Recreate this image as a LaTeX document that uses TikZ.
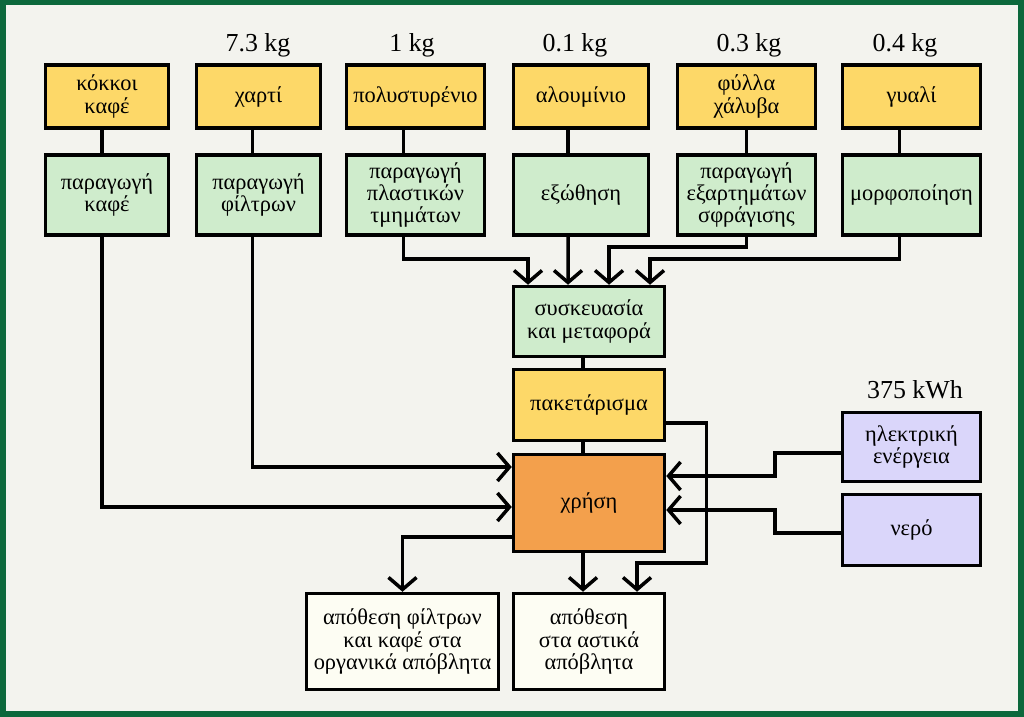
\documentclass[tikz,border=0pt]{standalone}
\usepackage{fontspec}
\setmainfont{Liberation Serif}
\usetikzlibrary{arrows.meta,positioning}
\definecolor{framegreen}{RGB}{12,104,60}
\definecolor{paper}{RGB}{243,243,238}
\definecolor{matyellow}{RGB}{253,216,104}
\definecolor{procgreen}{RGB}{207,236,204}
\definecolor{useorange}{RGB}{243,160,76}
\definecolor{inpurple}{RGB}{218,214,250}
\definecolor{endwhite}{RGB}{253,253,243}
\tikzset{
  box/.style={draw=black, line width=3.5bp, align=center, inner sep=1bp,
    font=\fontsize{22.5}{22.5}\selectfont},
  material/.style={box, fill=matyellow, minimum height=63bp},
  process/.style={box, fill=procgreen, minimum height=80bp},
  kg/.style={font=\fontsize{26}{28}\selectfont, inner sep=0bp},
}
\begin{document}
\begin{tikzpicture}[x=1bp,y=-1bp,>={Straight Barb[length=12bp,width=28bp]},line width=3.5bp]
  \useasboundingbox (0,0) rectangle (1024,717);
  \fill[framegreen] (0,0) rectangle (1024,717);
  \fill[paper] (6,5) rectangle (1018,711);
%%
  % Node: materials
  \node[material, minimum width=123bp] (kokkoi) at (107,96.5) {κόκκοι\\καφέ};
  \node[material, minimum width=124bp] (xarti) at (258.5,96.5) {χαρτί};
  \node[material, minimum width=138bp] (poly) at (415.5,96.5) {πολυστυρένιο};
  \node[material, minimum width=135bp] (alum) at (581,96.5) {αλουμίνιο};
  \node[material, minimum width=138bp] (fylla) at (746.5,96.5) {φύλλα\\χάλυβα};
  \node[material, minimum width=138bp] (gyali) at (911.5,96.5) {γυαλί};
  % Node: weights
  \node[kg] (wxarti) at (258,45) {7.3 kg};
  \node[kg] (wpoly) at (412,45) {1 kg};
  \node[kg] (walum) at (575,45) {0.1 kg};
  \node[kg] (wfylla) at (749,45) {0.3 kg};
  \node[kg] (wgyali) at (905,45) {0.4 kg};
  % Node: processes
  \node[process, minimum width=123bp] (kafeprod) at (107,195) {παραγωγή\\καφέ};
  \node[process, minimum width=124bp] (filtprod) at (258.5,195) {παραγωγή\\φίλτρων};
  \node[process, minimum width=138bp] (plastprod) at (415.5,195) {παραγωγή\\πλαστικών\\τμημάτων};
  \node[process, minimum width=135bp] (extr) at (581,195) {εξώθηση};
  \node[process, minimum width=138bp] (sfrag) at (746.5,195) {παραγωγή\\εξαρτημάτων\\σφράγισης};
  \node[process, minimum width=138bp] (morf) at (911.5,195) {μορφοποίηση};
  % Node: centre column
  \node[box, fill=procgreen, minimum width=151bp, minimum height=70bp] (syskev) at (589,321.5) {συσκευασία\\και μεταφορά};
  \node[box, fill=matyellow, minimum width=151bp, minimum height=71bp] (paket) at (589,405) {πακετάρισμα};
  \node[box, fill=useorange, minimum width=151bp, minimum height=97bp] (xrisi) at (589,503) {χρήση};
  % Node: inputs
  \node[kg] (wenerg) at (915,390) {375 kWh};
  \node[box, fill=inpurple, minimum width=138bp, minimum height=69bp] (energ) at (911.5,447) {ηλεκτρική\\ενέργεια};
  \node[box, fill=inpurple, minimum width=138bp, minimum height=71bp] (nero) at (911.5,530) {νερό};
  % Node: disposal
  \node[box, fill=endwhite, minimum width=192bp, minimum height=96bp] (organ) at (402.5,641.5) {απόθεση φίλτρων\\και καφέ στα\\οργανικά απόβλητα};
  \node[box, fill=endwhite, minimum width=151bp, minimum height=96bp] (astiko) at (589,641.5) {απόθεση\\στα αστικά\\απόβλητα};
%%
  % Edge: materials -> processes
  \draw ([xshift=-5bp]kokkoi.south) -- ([xshift=-5bp]kafeprod.north);
  \draw ([xshift=-6bp]xarti.south) -- ([xshift=-6bp]filtprod.north);
  \draw ([xshift=-12bp]poly.south) -- ([xshift=-12bp]plastprod.north);
  \draw ([xshift=-13bp]alum.south) -- ([xshift=-13bp]extr.north);
  \draw (fylla.south) -- (sfrag.north);
  \draw ([xshift=-12bp]gyali.south) -- ([xshift=-12bp]morf.north);
  % Edge: processes -> syskev
  \draw[->] ([xshift=-12bp]plastprod.south) -- ++(0,22) -| ([xshift=-61bp]syskev.north);
  \draw[->] ([xshift=-13bp]extr.south) -- ([xshift=-21bp]syskev.north);
  \draw[->] (sfrag.south) -- ++(0,10) -| ([xshift=20bp]syskev.north);
  \draw[->] ([xshift=-12bp]morf.south) -- ++(0,22) -| ([xshift=61bp]syskev.north);
  % Edge: centre column
  \draw ([xshift=-6bp]syskev.south) -- ([xshift=-6bp]paket.north);
  \draw ([xshift=-6bp]paket.south) -- ([xshift=-6bp]xrisi.north);
  % Edge: -> xrisi
  \draw[->] ([xshift=-5bp]kafeprod.south) |- ([yshift=-4bp]xrisi.west);
  \draw[->] ([xshift=-6bp]filtprod.south) |- ([yshift=36bp]xrisi.west);
  \draw[->] ([yshift=-6bp]energ.west) -- ++(-66,0) |- ([yshift=27bp]xrisi.east);
  \draw[->] ([yshift=-3bp]nero.west) -- ++(-66,0) |- ([yshift=-7bp]xrisi.east);
  % Edge: -> disposal
  \draw[->] ([yshift=-34bp]xrisi.west) -| (organ.north);
  \draw[->] ([xshift=-6bp]xrisi.south) -- ([xshift=-6bp]astiko.north);
  \draw[->] ([yshift=-18bp]paket.east) -- ++(40,0) -- ++(0,140) -| ([xshift=48bp]astiko.north);
%
\end{tikzpicture}
\end{document}
